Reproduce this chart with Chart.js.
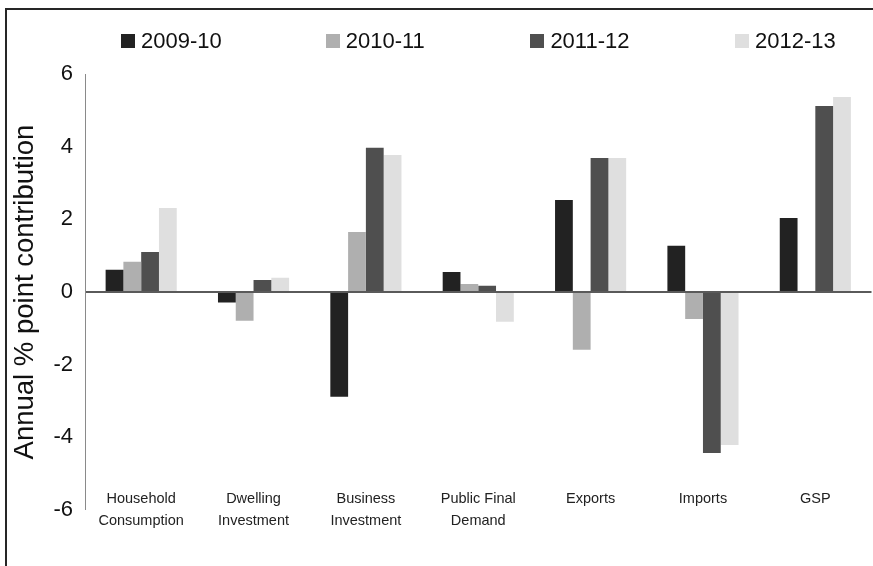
<!DOCTYPE html>
<html>
<head>
<meta charset="utf-8">
<script src="https://cdn.jsdelivr.net/npm/chart.js@4.4.1/dist/chart.umd.min.js"></script>
<style>
  body { margin: 0; background: #fff; width: 873px; height: 566px; overflow: hidden; position: relative; font-family: "Liberation Sans", Arial, sans-serif; }
  #frame { position: absolute; left: 5px; top: 8px; width: 900px; height: 600px; border-top: 2px solid #262626; border-left: 2px solid #262626; }
  #chart { position: absolute; left: 0; top: 0; }
  #legend { position: absolute; left: 121px; top: 30px; display: flex; }
  .item { width: 204.7px; height: 22px; display: flex; align-items: center; font-size: 22px; color: #111; }
  .swatch { width: 14px; height: 14px; margin-right: 6px; }
</style>
</head>
<body>
<div id="frame"></div>
<canvas id="chart" width="873" height="566"></canvas>
<div id="legend"></div>
<script>
// categories and series
const categories = [
  ['Household', 'Consumption'],
  ['Dwelling', 'Investment'],
  ['Business', 'Investment'],
  ['Public Final', 'Demand'],
  'Exports',
  'Imports',
  'GSP'
];
const seriesNames = ['2009-10', '2010-11', '2011-12', '2012-13'];
const values0910 = [0.61, -0.29, -2.88, 0.55, 2.53, 1.27, 2.04];
const values1011 = [0.83, -0.79, 1.65, 0.22, -1.59, -0.74, null];
const values1112 = [1.10, 0.33, 3.97, 0.17, 3.69, -4.43, 5.12];
const values1213 = [2.31, 0.39, 3.77, -0.82, 3.69, -4.21, 5.37];
const yTicks = [-6, -4, -2, 0, 2, 4, 6];

const colors = ['#222222', '#afafaf', '#4f4f4f', '#dfdfdf'];
const seriesValues = [values0910, values1011, values1112, values1213];

const datasets = seriesNames.map((name, i) => ({
  label: name,
  data: seriesValues[i],
  backgroundColor: colors[i],
  borderWidth: 0,
  categoryPercentage: 0.633,
  barPercentage: 1
}));

// legend as html, built from the datasets
document.getElementById('legend').innerHTML = datasets.map(d => `
  <div class="item"><span class="swatch" style="background:${d.backgroundColor}"></span>${d.label}</div>
`).join('');

const font = 'Liberation Sans, Arial, sans-serif';

new Chart(document.getElementById('chart'), {
  type: 'bar',
  data: { labels: categories, datasets: datasets },
  options: {
    responsive: false,
    devicePixelRatio: 1,
    animation: false,
    layout: { padding: { top: 74, right: 1.5, bottom: 56, left: 0 } },
    plugins: {
      legend: { display: false },
      tooltip: { enabled: false }
    },
    scales: {
      x: {
        // labels sit just above the bottom of the value axis, as in the original
        position: { y: yTicks[0] },
        grid: { display: false, drawTicks: false },
        border: { display: false },
        ticks: {
          color: '#222',
          padding: -22,
          maxRotation: 0,
          autoSkip: false,
          font: { family: font, size: 14.5, lineHeight: 1.52 }
        }
      },
      y: {
        z: 1,
        min: yTicks[0],
        max: yTicks[yTicks.length - 1],
        afterFit: scale => { scale.width = 85; },
        ticks: {
          stepSize: yTicks[1] - yTicks[0],
          color: '#111',
          padding: 12,
          font: { family: font, size: 22 }
        },
        grid: {
          drawTicks: false,
          color: c => c.tick && c.tick.value === 0 ? '#5a5a5a' : 'rgba(0,0,0,0)',
          lineWidth: c => c.tick && c.tick.value === 0 ? 2 : 0
        },
        border: { color: '#8a8a8a', width: 1 },
        title: {
          display: true,
          text: 'Annual % point contribution',
          color: '#111',
          padding: { top: 8.5, bottom: 10 },
          font: { family: font, size: 27.5 }
        }
      }
    }
  }
});
</script>
</body>
</html>
